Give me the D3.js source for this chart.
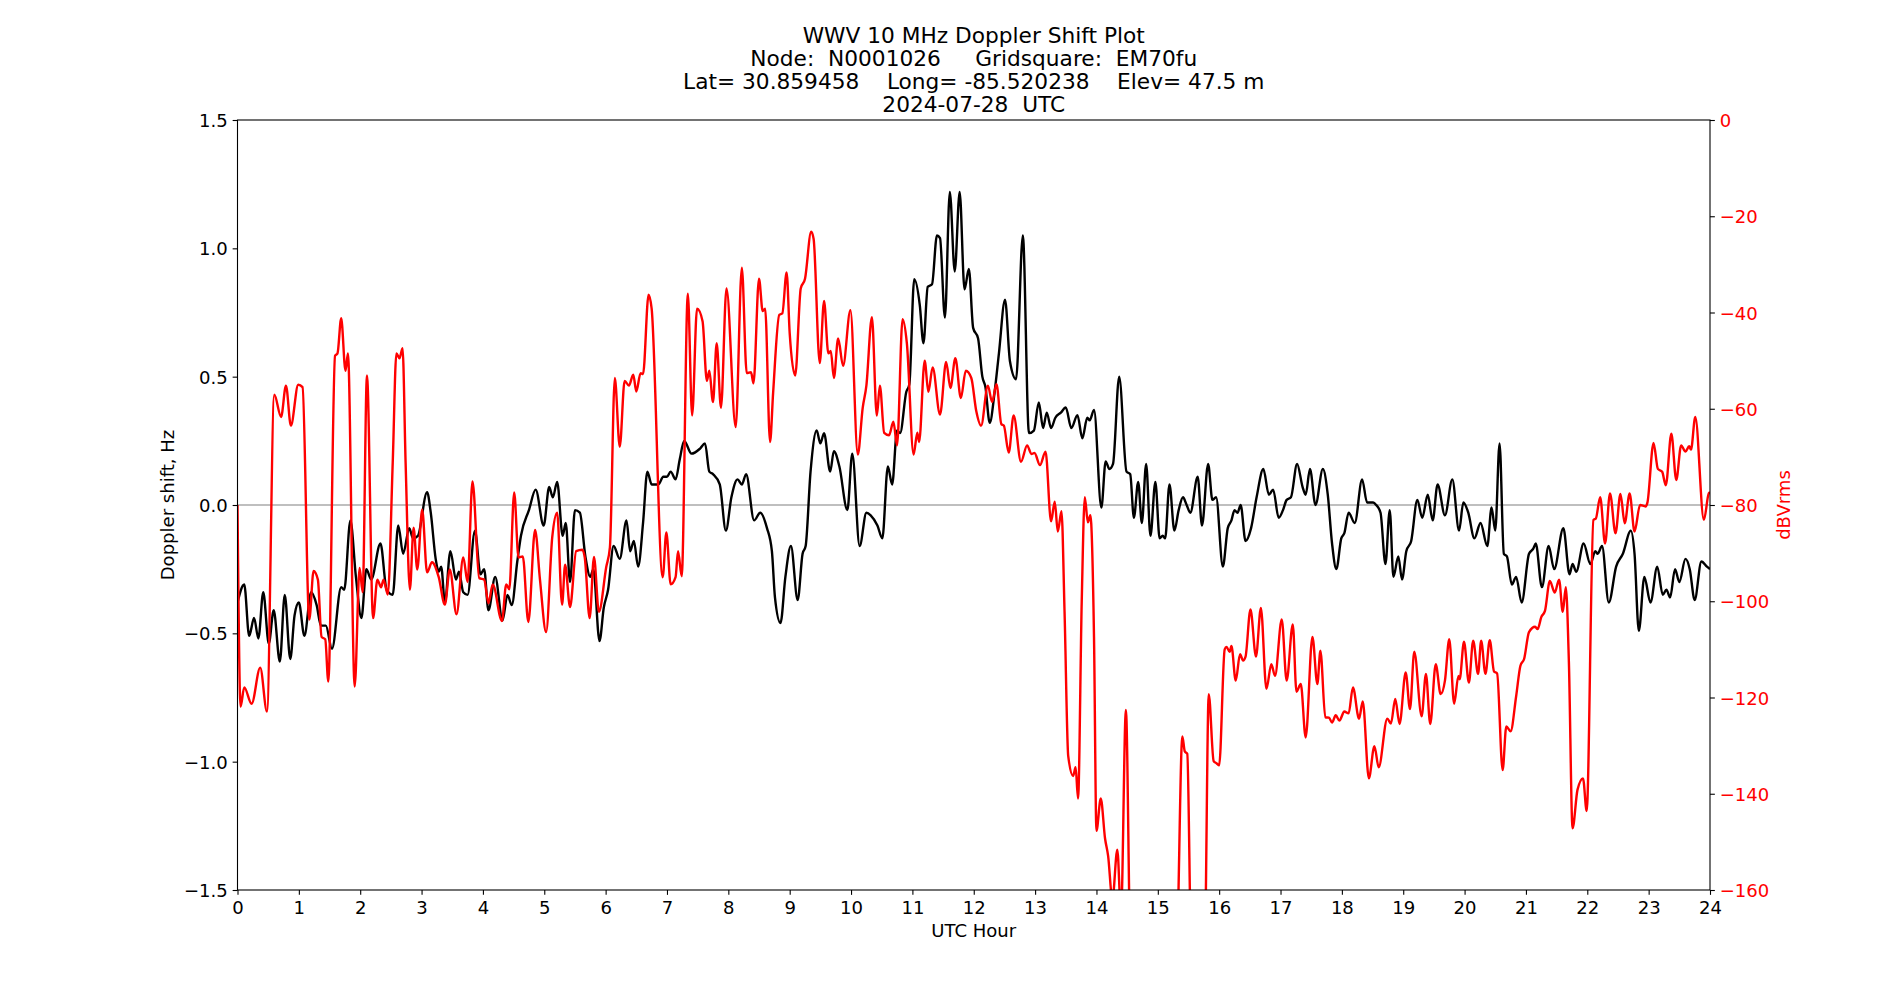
<!DOCTYPE html>
<html>
<head>
<meta charset="utf-8">
<script src="https://cdn.jsdelivr.net/npm/d3@7"></script>
<style>
body { margin: 0; background: #fff; }
svg text { font-family: "DejaVu Sans", sans-serif; }
</style>
</head>
<body>
<svg id="chart" width="1900" height="1000"></svg>
<script>
// doppler shift trace (black, left axis)
const dopHours = [0.0, 0.11, 0.19, 0.27, 0.34, 0.42, 0.51, 0.59, 0.69, 0.77, 0.86, 0.93, 1.0, 1.09, 1.2, 1.29, 1.36, 1.44, 1.54, 1.69,
    1.74, 1.84, 1.93, 2.02, 2.1, 2.18, 2.33, 2.43, 2.53, 2.62, 2.7, 2.8, 2.86, 2.94, 3.09, 3.15, 3.23, 3.28, 3.32, 3.38,
    3.47, 3.56, 3.61, 3.68, 3.75, 3.87, 3.96, 4.02, 4.09, 4.2, 4.32, 4.4, 4.47, 4.56, 4.62, 4.75, 4.86, 4.99, 5.08, 5.14,
    5.21, 5.3, 5.35, 5.42, 5.5, 5.58, 5.67, 5.75, 5.8, 5.9, 5.97, 6.04, 6.13, 6.23, 6.34, 6.4, 6.46, 6.53, 6.61, 6.68,
    6.75, 6.86, 6.94, 7.0, 7.06, 7.14, 7.21, 7.28, 7.4, 7.54, 7.62, 7.69, 7.75, 7.86, 7.96, 8.05, 8.15, 8.22, 8.29, 8.42,
    8.52, 8.63, 8.71, 8.76, 8.85, 8.93, 9.02, 9.13, 9.21, 9.26, 9.34, 9.44, 9.5, 9.56, 9.66, 9.72, 9.81, 9.94, 10.02, 10.14,
    10.25, 10.32, 10.43, 10.51, 10.6, 10.67, 10.75, 10.8, 10.9, 10.95, 11.03, 11.12, 11.18, 11.25, 11.32, 11.4, 11.45, 11.53, 11.61, 11.69,
    11.77, 11.85, 11.92, 11.99, 12.07, 12.14, 12.19, 12.26, 12.34, 12.41, 12.51, 12.59, 12.69, 12.8, 12.9, 12.98, 13.06, 13.13, 13.19, 13.26,
    13.33, 13.42, 13.5, 13.59, 13.69, 13.77, 13.85, 13.89, 13.96, 14.08, 14.15, 14.21, 14.27, 14.37, 14.49, 14.55, 14.61, 14.68, 14.74, 14.81,
    14.88, 14.96, 15.03, 15.08, 15.12, 15.19, 15.27, 15.34, 15.41, 15.47, 15.53, 15.65, 15.72, 15.82, 15.89, 15.95, 16.06, 16.14, 16.2, 16.25,
    16.3, 16.35, 16.43, 16.52, 16.61, 16.72, 16.81, 16.88, 16.97, 17.04, 17.1, 17.17, 17.27, 17.36, 17.41, 17.48, 17.57, 17.69, 17.77, 17.84,
    17.91, 17.99, 18.04, 18.11, 18.21, 18.33, 18.41, 18.51, 18.56, 18.63, 18.71, 18.78, 18.84, 18.92, 18.98, 19.05, 19.13, 19.23, 19.31, 19.4,
    19.48, 19.56, 19.68, 19.8, 19.91, 19.98, 20.06, 20.16, 20.26, 20.37, 20.44, 20.5, 20.57, 20.64, 20.69, 20.77, 20.84, 20.93, 21.05, 21.12,
    21.16, 21.26, 21.37, 21.46, 21.61, 21.71, 21.76, 21.82, 21.94, 22.05, 22.13, 22.17, 22.24, 22.35, 22.47, 22.58, 22.71, 22.77, 22.84, 22.93,
    23.03, 23.14, 23.23, 23.29, 23.35, 23.43, 23.5, 23.6, 23.67, 23.75, 23.86, 23.95, 24.0];
const dopShift = [-0.38, -0.31, -0.51, -0.44, -0.52, -0.34, -0.54, -0.41, -0.61, -0.35, -0.6, -0.43, -0.38, -0.51, -0.34, -0.39, -0.47, -0.47, -0.56, -0.32,
    -0.33, -0.06, -0.28, -0.44, -0.25, -0.29, -0.15, -0.33, -0.35, -0.08, -0.19, -0.09, -0.13, -0.12, 0.05, -0.03, -0.21, -0.26, -0.24, -0.38,
    -0.18, -0.29, -0.26, -0.34, -0.35, -0.1, -0.27, -0.25, -0.41, -0.28, -0.45, -0.35, -0.39, -0.22, -0.12, -0.02, 0.06, -0.08, 0.07, 0.03,
    0.09, -0.12, -0.07, -0.3, -0.02, -0.03, -0.2, -0.28, -0.25, -0.53, -0.4, -0.33, -0.16, -0.21, -0.06, -0.18, -0.14, -0.24, -0.07, 0.13,
    0.08, 0.08, 0.11, 0.11, 0.13, 0.1, 0.18, 0.25, 0.2, 0.22, 0.24, 0.13, 0.12, 0.08, -0.1, 0.03, 0.1, 0.08, 0.12, -0.06,
    -0.03, -0.09, -0.18, -0.36, -0.46, -0.28, -0.16, -0.37, -0.19, -0.16, 0.13, 0.29, 0.24, 0.28, 0.13, 0.21, 0.15, -0.02, 0.2, -0.16,
    -0.03, -0.04, -0.08, -0.13, 0.15, 0.08, 0.29, 0.28, 0.44, 0.47, 0.88, 0.78, 0.63, 0.85, 0.86, 1.05, 1.04, 0.73, 1.22, 0.91,
    1.22, 0.84, 0.92, 0.69, 0.65, 0.5, 0.46, 0.32, 0.44, 0.59, 0.8, 0.56, 0.49, 1.05, 0.28, 0.29, 0.4, 0.3, 0.36, 0.3,
    0.34, 0.36, 0.38, 0.3, 0.35, 0.26, 0.34, 0.33, 0.37, -0.01, 0.17, 0.14, 0.16, 0.5, 0.13, 0.12, -0.05, 0.09, -0.07, 0.16,
    -0.12, 0.09, -0.13, -0.12, -0.13, 0.08, -0.1, -0.02, 0.03, 0.0, -0.03, 0.11, -0.08, 0.16, 0.02, 0.03, -0.24, -0.09, -0.06, -0.02,
    -0.03, 0.0, -0.14, -0.09, 0.03, 0.14, 0.04, 0.06, -0.05, -0.02, 0.02, 0.03, 0.16, 0.07, 0.04, 0.14, 0.0, 0.14, 0.04, -0.15,
    -0.25, -0.13, -0.11, -0.03, -0.07, 0.1, 0.01, 0.01, 0.0, -0.03, -0.23, -0.02, -0.28, -0.2, -0.29, -0.18, -0.14, 0.02, -0.05, 0.04,
    -0.06, 0.08, -0.04, 0.1, -0.1, 0.01, -0.03, -0.13, -0.07, -0.16, -0.01, -0.1, 0.24, -0.19, -0.2, -0.31, -0.28, -0.38, -0.19, -0.17,
    -0.15, -0.32, -0.16, -0.25, -0.09, -0.27, -0.23, -0.26, -0.15, -0.23, -0.18, -0.19, -0.16, -0.38, -0.24, -0.19, -0.1, -0.19, -0.49, -0.28,
    -0.38, -0.24, -0.35, -0.33, -0.36, -0.25, -0.3, -0.21, -0.25, -0.37, -0.22, -0.24, -0.25];

// received power trace (red, right axis)
const pwrHours = [0.0, 0.05, 0.11, 0.23, 0.37, 0.48, 0.6, 0.71, 0.79, 0.87, 0.99, 1.06, 1.17, 1.24, 1.31, 1.37, 1.43, 1.48, 1.59, 1.63,
    1.69, 1.76, 1.8, 1.91, 1.99, 2.04, 2.11, 2.21, 2.28, 2.34, 2.38, 2.45, 2.53, 2.59, 2.64, 2.69, 2.74, 2.81, 2.87, 2.93,
    3.01, 3.09, 3.17, 3.28, 3.38, 3.46, 3.57, 3.68, 3.75, 3.83, 3.94, 4.02, 4.09, 4.16, 4.31, 4.38, 4.43, 4.51, 4.58, 4.65,
    4.74, 4.85, 4.93, 5.03, 5.13, 5.21, 5.29, 5.34, 5.42, 5.52, 5.62, 5.66, 5.74, 5.81, 5.89, 6.01, 6.07, 6.15, 6.23, 6.31,
    6.38, 6.45, 6.5, 6.57, 6.61, 6.7, 6.75, 6.93, 6.99, 7.06, 7.14, 7.18, 7.24, 7.34, 7.41, 7.49, 7.58, 7.65, 7.69, 7.75,
    7.81, 7.88, 7.97, 8.12, 8.22, 8.3, 8.37, 8.41, 8.5, 8.56, 8.6, 8.68, 8.73, 8.83, 8.88, 8.95, 9.0, 9.09, 9.18, 9.25,
    9.35, 9.39, 9.49, 9.56, 9.63, 9.67, 9.72, 9.79, 9.87, 9.99, 10.11, 10.19, 10.25, 10.34, 10.42, 10.47, 10.54, 10.62, 10.69, 10.75,
    10.84, 10.91, 11.02, 11.08, 11.11, 11.2, 11.26, 11.33, 11.45, 11.55, 11.62, 11.7, 11.79, 11.87, 11.96, 12.04, 12.12, 12.23, 12.3, 12.37,
    12.45, 12.49, 12.57, 12.65, 12.77, 12.87, 12.94, 12.99, 13.08, 13.17, 13.26, 13.32, 13.37, 13.43, 13.48, 13.54, 13.62, 13.66, 13.7, 13.76,
    13.81, 13.86, 13.9, 13.96, 14.0, 14.07, 14.14, 14.19, 14.26, 14.34, 14.4, 14.48, 14.56, 15.3, 15.4, 15.44, 15.48, 15.55, 15.76, 15.83,
    15.91, 15.96, 16.0, 16.09, 16.12, 16.17, 16.2, 16.27, 16.34, 16.39, 16.43, 16.51, 16.6, 16.68, 16.77, 16.85, 16.91, 17.02, 17.1, 17.2,
    17.26, 17.33, 17.41, 17.52, 17.6, 17.65, 17.73, 17.79, 17.84, 17.9, 17.96, 18.04, 18.11, 18.18, 18.28, 18.34, 18.44, 18.53, 18.6, 18.74,
    18.8, 18.87, 18.94, 19.04, 19.11, 19.18, 19.3, 19.37, 19.44, 19.53, 19.61, 19.68, 19.75, 19.83, 19.9, 19.92, 19.99, 20.07, 20.14, 20.22,
    20.27, 20.34, 20.41, 20.48, 20.53, 20.62, 20.68, 20.75, 20.84, 20.91, 20.97, 21.05, 21.15, 21.19, 21.25, 21.31, 21.39, 21.47, 21.54, 21.6,
    21.65, 21.7, 21.76, 21.84, 21.93, 21.99, 22.1, 22.14, 22.21, 22.29, 22.37, 22.46, 22.54, 22.61, 22.69, 22.77, 22.86, 22.95, 22.98, 23.08,
    23.15, 23.22, 23.28, 23.37, 23.45, 23.53, 23.6, 23.66, 23.69, 23.76, 23.9, 23.98, 24.0];
const pwrDb = [-80, -121.9, -117.9, -121.3, -113.8, -122.9, -57.1, -61.7, -55.2, -63.5, -55.0, -55.5, -103.8, -93.7, -95.5, -107.4, -107.9, -116.7, -49.0, -48.5,
    -41.2, -52.1, -48.5, -117.7, -93.1, -98.1, -53.1, -103.5, -95.5, -97.1, -95.5, -98.6, -71.2, -48.5, -49.5, -47.4, -71.2, -97.6, -84.7, -93.4,
    -81.0, -94.0, -91.9, -95.0, -100.7, -93.4, -102.7, -90.9, -96.0, -75.1, -95.2, -95.5, -100.4, -96.5, -104.1, -96.5, -97.5, -77.4, -90.9, -90.7,
    -104.3, -85.2, -95.5, -106.4, -86.7, -81.6, -100.7, -92.4, -101.2, -89.6, -89.3, -90.9, -103.5, -90.8, -102.2, -92.9, -88.8, -53.6, -67.9, -54.2,
    -55.2, -52.9, -56.4, -52.6, -52.8, -36.3, -39.2, -95.0, -85.7, -96.5, -95.0, -89.6, -94.8, -36.1, -61.4, -39.2, -41.8, -54.2, -52.1, -58.6,
    -46.4, -59.8, -35.0, -63.8, -30.7, -52.6, -52.4, -54.7, -33.0, -39.7, -39.2, -66.9, -56.7, -40.5, -40.2, -31.7, -44.3, -53.1, -35.0, -33.0,
    -23.2, -24.7, -50.5, -37.6, -48.5, -48.0, -53.6, -45.4, -51.1, -39.5, -69.5, -59.8, -55.2, -41.0, -61.4, -55.2, -65.0, -65.5, -62.7, -67.6,
    -41.4, -46.4, -69.5, -65.0, -66.9, -50.0, -56.5, -51.4, -61.2, -50.3, -55.7, -49.5, -57.8, -52.1, -53.6, -60.4, -63.5, -55.2, -58.6, -54.9,
    -63.2, -63.5, -69.1, -61.4, -71.0, -67.6, -69.4, -69.2, -71.7, -68.9, -83.4, -79.3, -85.5, -81.3, -102.2, -132.2, -136.3, -134.5, -141.0, -100.0,
    -78.4, -83.6, -82.1, -107.4, -147.7, -141.0, -149.3, -152.9, -162.0, -151.6, -165.0, -122.6, -175.0, -175.0, -128.1, -131.2, -131.7, -175.0, -175.0, -119.3,
    -133.2, -133.7, -134.1, -110.0, -109.5, -110.5, -109.3, -116.5, -111.0, -112.3, -111.5, -101.7, -111.5, -101.4, -118.2, -113.1, -115.5, -103.8, -116.5, -104.8,
    -118.8, -117.2, -128.3, -107.4, -117.2, -110.3, -124.1, -124.2, -125.2, -123.7, -124.8, -122.9, -123.3, -117.9, -124.4, -120.8, -136.8, -130.1, -134.5, -124.4,
    -125.4, -120.3, -125.5, -114.8, -122.4, -110.5, -123.9, -115.1, -125.5, -113.1, -119.3, -116.5, -107.9, -121.3, -115.5, -116.2, -108.4, -116.9, -108.2, -115.1,
    -108.2, -115.1, -108.1, -114.6, -115.0, -135.1, -126.0, -127.0, -119.8, -113.4, -112.0, -106.4, -105.3, -105.8, -103.3, -102.0, -95.8, -98.2, -95.5, -102.2,
    -97.1, -112.6, -147.2, -139.2, -136.8, -143.6, -83.1, -82.8, -78.4, -88.0, -77.6, -85.9, -77.7, -83.8, -77.6, -85.5, -80.0, -80.3, -79.5, -67.1,
    -72.5, -73.1, -75.9, -65.2, -74.8, -67.6, -68.9, -67.8, -68.5, -61.7, -83.1, -77.6, -77.4];

const xTicks = d3.range(0, 25);
const leftTicks = [-1.5, -1.0, -0.5, 0.0, 0.5, 1.0, 1.5];
const rightTicks = [0, -20, -40, -60, -80, -100, -120, -140, -160];
const titleLines = [
    "WWV 10 MHz Doppler Shift Plot",
    "Node:  N0001026     Gridsquare:  EM70fu",
    "Lat= 30.859458    Long= -85.520238    Elev= 47.5 m",
    "2024-07-28  UTC"
];

const svg = d3.select("#chart");
const plotLeft = 237.5, plotRight = 1710, plotTop = 120, plotBottom = 890;
const tickFont = 18.06, titleFont = 21.7;

const x = d3.scaleLinear().domain([0, 24]).range([plotLeft, plotRight]);
const yDop = d3.scaleLinear().domain([-1.5, 1.5]).range([plotBottom, plotTop]);
const yPwr = d3.scaleLinear().domain([-160, 0]).range([plotBottom, plotTop]);

svg.append("rect").attr("width", 1900).attr("height", 1000).attr("fill", "#fff");

svg.append("defs").append("clipPath").attr("id", "plot-clip")
    .append("rect")
    .attr("x", plotLeft).attr("y", plotTop)
    .attr("width", plotRight - plotLeft).attr("height", plotBottom - plotTop);

var plot = svg.append("g").attr("clip-path", "url(#plot-clip)");

// zero reference line
plot.append("line")
    .attr("x1", plotLeft).attr("x2", plotRight)
    .attr("y1", yDop(0)).attr("y2", yDop(0))
    .attr("stroke", "gray")
    .attr("stroke-width", 1.1);

var dopLine = d3.line()
    .x(function(d) { return x(d[0]); })
    .y(function(d) { return yDop(d[1]); })
    .curve(d3.curveMonotoneX);

var pwrLine = d3.line()
    .x(function(d) { return x(d[0]); })
    .y(function(d) { return yPwr(d[1]); })
    .curve(d3.curveMonotoneX);

plot.append("path")
    .datum(d3.zip(dopHours, dopShift))
    .attr("d", dopLine)
    .attr("fill", "none")
    .attr("stroke", "black")
    .attr("stroke-width", 2.4)
    .attr("stroke-linejoin", "round");

plot.append("path")
    .datum(d3.zip(pwrHours, pwrDb))
    .attr("d", pwrLine)
    .attr("fill", "none")
    .attr("stroke", "red")
    .attr("stroke-width", 2.4)
    .attr("stroke-linejoin", "round");

// axes
function styleAxis(g, color) {
    g.select(".domain").remove();
    g.selectAll(".tick line").attr("stroke", "black").attr("stroke-width", 1.1);
    g.selectAll(".tick text")
        .attr("fill", color)
        .style("font-family", "'DejaVu Sans', sans-serif")
        .style("font-size", tickFont + "px");
}

var xAxis = svg.append("g")
    .attr("transform", "translate(0," + plotBottom + ")")
    .call(d3.axisBottom(x).tickValues(xTicks).tickFormat(d3.format("d")).tickSize(4.86).tickPadding(4.86));
styleAxis(xAxis, "black");
xAxis.selectAll(".tick text").attr("dy", "0.81em");

var leftAxis = svg.append("g")
    .attr("transform", "translate(" + plotLeft + ",0)")
    .call(d3.axisLeft(yDop).tickValues(leftTicks).tickFormat(d3.format(".1f")).tickSize(4.86).tickPadding(4.86));
styleAxis(leftAxis, "black");
leftAxis.selectAll(".tick text").attr("dy", "0.36em");

var rightAxis = svg.append("g")
    .attr("transform", "translate(" + plotRight + ",0)")
    .call(d3.axisRight(yPwr).tickValues(rightTicks).tickFormat(d3.format("d")).tickSize(4.86).tickPadding(4.86));
styleAxis(rightAxis, "red");
rightAxis.selectAll(".tick text").attr("dy", "0.36em");

// spines
svg.append("rect")
    .attr("x", plotLeft).attr("y", plotTop)
    .attr("width", plotRight - plotLeft).attr("height", plotBottom - plotTop)
    .attr("fill", "none")
    .attr("stroke", "black")
    .attr("stroke-width", 1.1);

// labels
svg.append("text")
    .attr("x", (plotLeft + plotRight) / 2).attr("y", 937)
    .attr("text-anchor", "middle")
    .style("font-size", tickFont + "px")
    .text("UTC Hour");

svg.append("text")
    .attr("transform", "translate(174," + (plotTop + plotBottom) / 2 + ") rotate(-90)")
    .attr("text-anchor", "middle")
    .style("font-size", tickFont + "px")
    .text("Doppler shift, Hz");

svg.append("text")
    .attr("transform", "translate(1790," + (plotTop + plotBottom) / 2 + ") rotate(-90)")
    .attr("text-anchor", "middle")
    .attr("fill", "red")
    .style("font-size", tickFont + "px")
    .text("dBVrms");

svg.append("g").selectAll("text")
    .data(titleLines)
    .enter().append("text")
    .attr("x", (plotLeft + plotRight) / 2)
    .attr("y", function(d, i) { return 111.7 - (titleLines.length - 1 - i) * 23; })
    .attr("text-anchor", "middle")
    .style("font-size", titleFont + "px")
    .style("white-space", "pre")
    .text(function(d) { return d; });
</script>
</body>
</html>
